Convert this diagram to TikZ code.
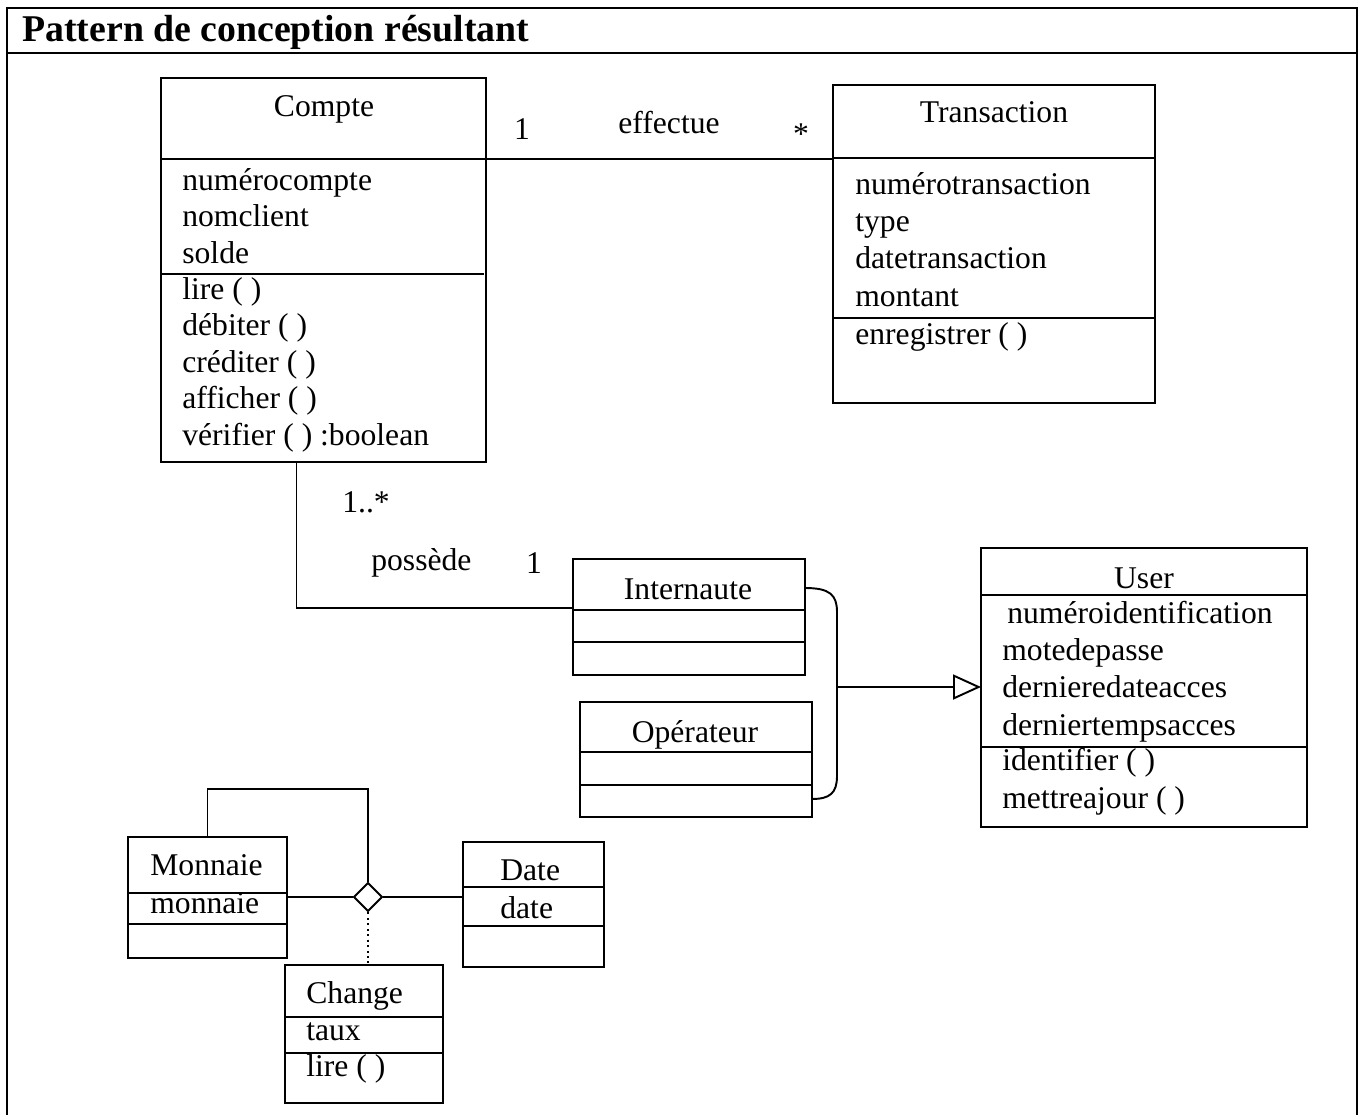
\documentclass[tikz,border=0pt]{standalone}
\usepackage{fontspec}
\setmainfont{Liberation Serif}
\usetikzlibrary{shapes.geometric, arrows.meta, positioning}

\begin{document}
\begin{tikzpicture}[x=0.02cm, y=-0.02cm,
        font=\fontsize{18}{20.75}\selectfont,
        classe/.style={rectangle, draw, line width=1.1pt, inner sep=0pt, outer sep=0pt, anchor=north west},
        nom/.style={anchor=base, inner sep=0pt},
        membres/.style={anchor=base west, align=left, inner sep=0pt},
        lien/.style={line width=1.1pt},
        cadre/.style={line width=0.7pt}]
    \useasboundingbox (0,0) rectangle (1363,1115);
    % cadre et titre
    \draw[cadre] (7,1115) -- (7,8) -- (1357,8) -- (1357,1115);
    \draw[cadre] (7,53) -- (1357,53);
    \node[anchor=base west, inner sep=0pt, font=\fontsize{21.5}{24}\selectfont\bfseries] (titre) at (22,42) {Pattern de conception résultant};

    % Compte (les membres sont places par leur derniere ligne)
    \node[classe, minimum width=6.5cm, minimum height=7.68cm] (compte) at (161,78) {};
    \draw[lien] (compte.north west) ++(0,81) coordinate (compteH) -- ++(325,0);
    \draw[lien] (compte.north west) ++(0,196) -- ++(323,0);
    \node[nom] (compteN) at (324,117) {Compte};
    \node[membres] (compteA) at (182,263) {numérocompte\\nomclient\\solde};
    \node[membres] (compteM) at (182,445) {lire ( )\\débiter ( )\\créditer ( )\\afficher ( )\\vérifier ( ) :boolean};

    % Transaction
    \node[classe, minimum width=6.44cm, minimum height=6.36cm] (transaction) at (833,85) {};
    \draw[lien] (transaction.north west) ++(0,73) -- ++(322,0);
    \draw[lien] (transaction.north west) ++(0,233) -- ++(322,0);
    \node[nom] (transactionN) at (994,123) {Transaction};
    \node[membres, font=\fontsize{18}{21.2}\selectfont] (transactionA) at (855,306) {numérotransaction\\type\\datetransaction\\montant};
    \node[membres] (transactionM) at (855,344) {enregistrer ( )};

    \draw[lien] (compteH) -- (compteH -| transaction.west);
    \node[nom] (multUn) at (522,140) {1};
    \node[nom] (effectue) at (669,133) {effectue};
    \node[nom] (multN) at (801,145) {*};

    % Internaute, Operateur
    \node[classe, minimum width=4.64cm, minimum height=2.32cm] (internaute) at (573,559) {};
    \draw[lien] (internaute.north west) ++(0,51) -- ++(232,0);
    \draw[lien] (internaute.north west) ++(0,83) -- ++(232,0);
    \node[nom] (internauteN) at (688,599) {Internaute};
    \node[classe, minimum width=4.64cm, minimum height=2.3cm] (operateur) at (580,702) {};
    \draw[lien] (operateur.north west) ++(0,50) -- ++(232,0);
    \draw[lien] (operateur.north west) ++(0,83) -- ++(232,0);
    \node[nom] (operateurN) at (695,742) {Opérateur};

    \draw[lien] ([xshift=-0.54cm]compte.south) |- ([yshift=-0.98cm]internaute.north west);
    \node[anchor=base west, inner sep=0pt] (multPlus) at (342,512) {1..*};
    \node[anchor=base west, inner sep=0pt] (possede) at (371,570) {possède};
    \node[nom] (multUnBis) at (534,573) {1};

    % User
    \node[classe, minimum width=6.52cm, minimum height=5.58cm] (user) at (981,548) {};
    \draw[lien] (user.north west) ++(0,47) -- ++(326,0);
    \draw[lien] (user.north west) ++(0,199) -- ++(326,0);
    \node[nom] (userN) at (1144,588) {User};
    \node[membres, font=\fontsize{18}{21.1}\selectfont] (userA) at (1002,735) {\hspace{0.1cm}numéroidentification\\motedepasse\\dernieredateacces\\derniertempsacces};
    \node[membres, font=\fontsize{18}{21.1}\selectfont] (userM) at (1002,808) {identifier ( )\\mettreajour ( )};

    \draw[lien] ([yshift=0.58cm]internaute.east) .. controls (830,588) and (837,595) .. (837,612)
        -- (837,776) .. controls (837,793) and (830,799) .. ([yshift=-0.79cm]operateur.east);
    \coordinate (gen) at (837,687);
    \draw[lien, -{Triangle[open, length=0.56cm, width=0.5cm]}] (gen) -- (gen -| user.west);

    % Monnaie, Date, Change
    \node[classe, minimum width=3.18cm, minimum height=2.42cm] (monnaie) at (128,837) {};
    \draw[lien] (monnaie.north west) ++(0,56) -- ++(159,0);
    \draw[lien] (monnaie.north west) ++(0,87) -- ++(159,0);
    \node[membres] (monnaieN) at (150,875) {Monnaie};
    \node[membres] (monnaieA) at (150,913) {monnaie};

    \node[classe, minimum width=2.82cm, minimum height=2.5cm] (date) at (463,842) {};
    \draw[lien] (date.north west) ++(0,45) -- ++(141,0);
    \draw[lien] (date.north west) ++(0,84) -- ++(141,0);
    \node[membres] (dateN) at (500,880) {Date};
    \node[membres] (dateA) at (500,918) {date};

    \node[classe, minimum width=3.16cm, minimum height=2.76cm] (change) at (285,965) {};
    \draw[lien] (change.north west) ++(0,52) -- ++(158,0);
    \draw[lien] (change.north west) ++(0,88) -- ++(158,0);
    \node[membres] (changeN) at (306,1003) {Change};
    \node[membres] (changeA) at (306,1040) {taux};
    \node[membres] (changeM) at (306,1076) {lire ( )};

    \node[diamond, draw, line width=1.1pt, minimum width=0.58cm, minimum height=0.58cm, inner sep=0pt] (assoc) at (368,897) {};
    \draw[lien] (monnaie.east |- assoc) -- (assoc.west);
    \draw[lien] (assoc.east) -- (assoc -| date.west);
    \draw[lien] (monnaie.north) -- ++(0,-48) -| (assoc.north);
    \draw[lien, dotted] (assoc.south) -- (assoc.south |- change.north);
\end{tikzpicture}
\end{document}
